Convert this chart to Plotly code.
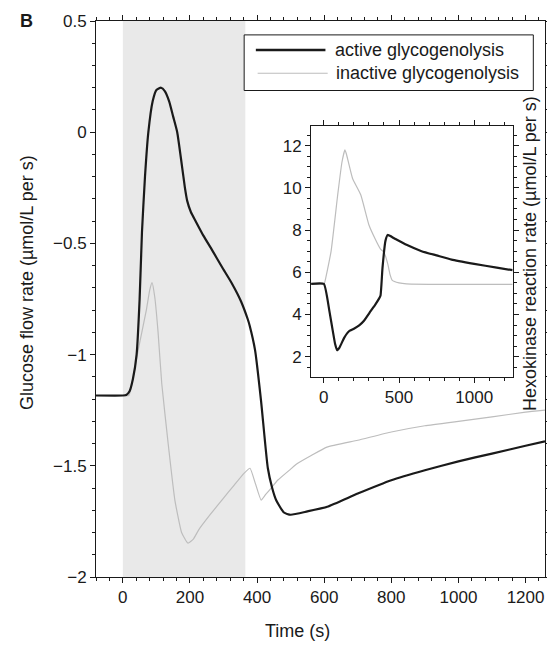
import plotly.graph_objects as go

# main panel: glucose flow rate (umol/L per s) vs time (s)
t_active = [-80, 0, 10, 20, 30, 41, 50, 57, 66, 76, 89, 100, 114, 125, 138, 150, 162, 176, 185,
            192, 203, 217, 240, 266, 295, 325, 352, 372, 378, 394, 412, 432, 445, 457, 480, 500,
            550, 609, 700, 800, 900, 1000, 1100, 1200, 1258]
flow_active = [-1.184, -1.184, -1.182, -1.165, -1.11, -1.0, -0.75, -0.45, -0.2, 0.0, 0.14, 0.19,
               0.2, 0.185, 0.139, 0.07, 0.0, -0.15, -0.25, -0.31, -0.36, -0.40, -0.465, -0.53,
               -0.605, -0.68, -0.76, -0.84, -0.87, -0.98, -1.21, -1.51, -1.60, -1.655, -1.71,
               -1.72, -1.705, -1.684, -1.625, -1.565, -1.52, -1.48, -1.445, -1.41, -1.39]

t_inactive = [-80, 0, 18, 47, 70, 80, 87, 95, 105, 116, 135, 155, 175, 194, 210, 226, 260, 300,
              330, 361, 379, 395, 412, 425, 445, 462, 500, 520, 560, 608, 700, 800, 900, 1000,
              1100, 1200, 1258]
flow_inactive = [-1.184, -1.184, -1.184, -0.97, -0.80, -0.71, -0.676, -0.74, -0.90, -1.131, -1.40,
                 -1.654, -1.80, -1.848, -1.83, -1.788, -1.72, -1.645, -1.59, -1.534, -1.511,
                 -1.58, -1.654, -1.63, -1.595, -1.564, -1.515, -1.49, -1.455, -1.416, -1.385,
                 -1.348, -1.32, -1.30, -1.28, -1.259, -1.25]

# inset: hexokinase reaction rate
t_hk_active = [-85, 0, 37, 60, 75, 88, 105, 136, 169, 200, 235, 267, 311, 340, 366, 377, 390,
               410, 425, 470, 550, 650, 750, 850, 1000, 1150, 1256]
hk_active = [5.45, 5.45, 4.16, 3.2, 2.6, 2.31, 2.45, 2.91, 3.22, 3.33, 3.49, 3.71, 4.16, 4.45,
             4.74, 4.9, 6.2, 7.5, 7.77, 7.6, 7.3, 7.0, 6.8, 6.6, 6.4, 6.22, 6.1]

t_hk_inactive = [-85, 0, 5, 48, 92, 120, 140, 150, 191, 246, 300, 340, 377, 400, 425, 440, 455,
                 500, 550, 700, 1256]
hk_inactive = [5.45, 5.45, 5.5, 6.99, 9.66, 11.2, 11.8, 11.6, 10.44, 9.66, 8.24, 7.6, 7.1, 6.95,
               6.4, 5.9, 5.62, 5.5, 5.45, 5.43, 5.43]

stim_start, stim_end = 0, 365
labels = ["active glycogenolysis", "inactive glycogenolysis"]

FONT = "Liberation Sans, Arial, sans-serif"
INK = "#1a1a1a"
GREY = "#bdbdbd"

fig = go.Figure()
fig.add_trace(go.Scatter(x=t_inactive, y=flow_inactive, mode="lines",
                         line=dict(color=GREY, width=1.2, shape="spline", smoothing=0.4),
                         showlegend=False))
fig.add_trace(go.Scatter(x=t_active, y=flow_active, mode="lines",
                         line=dict(color=INK, width=2.2, shape="spline", smoothing=0.5),
                         showlegend=False))
fig.add_trace(go.Scatter(x=t_hk_inactive, y=hk_inactive, mode="lines", xaxis="x2", yaxis="y2",
                         line=dict(color=GREY, width=1.2, shape="spline", smoothing=0.4),
                         showlegend=False))
fig.add_trace(go.Scatter(x=t_hk_active, y=hk_active, mode="lines", xaxis="x2", yaxis="y2",
                         line=dict(color=INK, width=2.2, shape="spline", smoothing=0.4),
                         showlegend=False))

# shaded stimulation period
fig.add_shape(type="rect", xref="x", yref="y domain", x0=stim_start, x1=stim_end, y0=0, y1=1,
              fillcolor="#e9e9e9", line_width=0, layer="below")
fig.add_shape(type="rect", xref="x2", yref="y2 domain", x0=stim_start - 20, x1=stim_end + 35,
              y0=0, y1=1, fillcolor="#eeeeee", line_width=0, layer="below")

axis_common = dict(showline=True, linecolor=INK, linewidth=1, mirror="ticks", ticks="outside",
                   tickcolor=INK, showgrid=False, zeroline=False,
                   tickfont=dict(family=FONT, size=17, color=INK))

# page has an 8px body margin, so the figure is 8px smaller and margins shifted
fig.update_layout(
    width=547, height=637,
    margin=dict(l=88, r=4, t=10, b=68),
    paper_bgcolor="white", plot_bgcolor="white",
    font=dict(family=FONT, size=18, color=INK),
    xaxis=dict(axis_common, range=[-80, 1258], dtick=200, ticklen=5,
               minor=dict(dtick=40, ticks="outside", ticklen=3, tickcolor=INK)),
    yaxis=dict(axis_common, range=[-2, 0.5], dtick=0.5, ticklen=5,
               minor=dict(dtick=0.1, ticks="outside", ticklen=3, tickcolor=INK)),
    xaxis2=dict(axis_common, domain=[0.479, 0.928], anchor="y2", range=[-85, 1256],
                tickvals=[0, 500, 1000], ticklen=5,
                minor=dict(dtick=100, ticks="outside", ticklen=3, tickcolor=INK)),
    yaxis2=dict(axis_common, domain=[0.36, 0.812], anchor="x2", range=[1.05, 12.95], dtick=2,
                ticklen=5, minor=dict(dtick=0.5, ticks="outside", ticklen=3, tickcolor=INK)),
)

# hand-drawn legend box (long line keys, like the original)
fig.add_shape(type="rect", xref="paper", yref="paper", x0=0.330, x1=0.974, y0=0.875, y1=0.975,
              line=dict(color=INK, width=1), fillcolor="white")
fig.add_shape(type="line", xref="paper", yref="paper", x0=0.356, x1=0.511, y0=0.948, y1=0.948,
              line=dict(color=INK, width=2.5))
fig.add_shape(type="line", xref="paper", yref="paper", x0=0.360, x1=0.516, y0=0.906, y1=0.906,
              line=dict(color=GREY, width=1.2))
fig.add_annotation(x=0.527, y=0.948, xref="paper", yref="paper", text=labels[0],
                   showarrow=False, xanchor="left", yanchor="middle")
fig.add_annotation(x=0.531, y=0.906, xref="paper", yref="paper", text=labels[1],
                   showarrow=False, xanchor="left", yanchor="middle")

# axis titles
fig.add_annotation(x=-0.152, y=0.53, xref="paper", yref="paper",
                   text="Glucose flow rate (µmol/L per s)", textangle=-90, showarrow=False,
                   xanchor="center", yanchor="middle")
fig.add_annotation(x=0.968, y=0.582, xref="paper", yref="paper",
                   text="Hexokinase reaction rate (µmol/L per s)", textangle=-90,
                   showarrow=False, xanchor="center", yanchor="middle")
fig.add_annotation(x=0.448, y=-0.098, xref="paper", yref="paper", text="Time (s)",
                   showarrow=False, xanchor="center", yanchor="middle")
fig.add_annotation(x=-0.154, y=1.0, xref="paper", yref="paper", text="<b>B</b>",
                   showarrow=False, xanchor="center", yanchor="middle")

fig.write_html("out.html")
